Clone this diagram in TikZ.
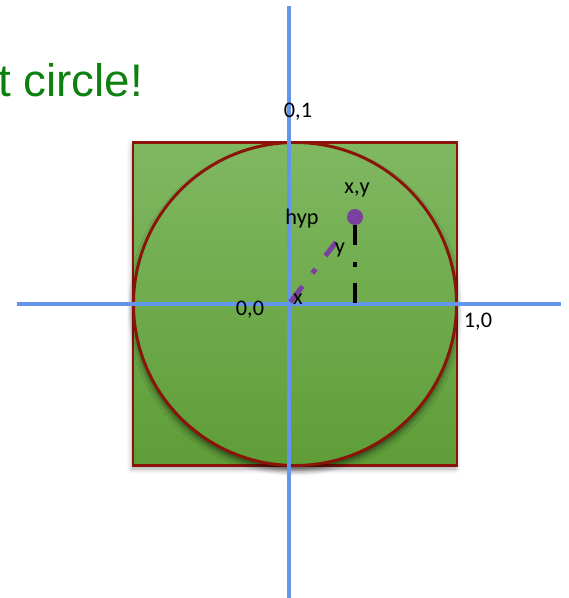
\documentclass[tikz,border=0pt]{standalone}
\usepackage{fontspec}
\setmainfont{Carlito}
\newfontfamily\titlefont{Liberation Sans}
\usetikzlibrary{shadows.blur}
\definecolor{axisblue}{HTML}{6495ED}
\definecolor{boxred}{HTML}{8B1408}
\definecolor{greentop}{HTML}{80B862}
\definecolor{greenbot}{HTML}{5E9D37}
\definecolor{ptpurple}{HTML}{7B3F9E}
\definecolor{titlegreen}{HTML}{0E8010}
\begin{document}
\begin{tikzpicture}[x=0.03cm,y=-0.03cm,
  axis/.style={draw=axisblue,line width=2.6pt},
  shape fill/.style={draw=boxred,line width=2.5pt,top color=greentop,bottom color=greenbot,inner sep=0pt},
  lbl/.style={font=\fontsize{19}{20}\selectfont,inner sep=0pt},
  dashline/.style={line width=4.2pt,dash pattern=on 17pt off 14pt on 4.5pt off 14pt}]
\useasboundingbox (0,0) rectangle (568,598);
\node[shape fill,rectangle,minimum width=324*0.03cm,minimum height=323*0.03cm,
  blur shadow={shadow xshift=-1pt,shadow yshift=-3pt,shadow blur radius=4pt,shadow opacity=35}] (sq) at (295,304) {};
\node[shape fill,circle,minimum size=323*0.03cm,
  blur shadow={shadow xshift=0pt,shadow yshift=-4pt,shadow blur radius=5pt,shadow opacity=60}] (c) at (295,304) {};
\coordinate (xl) at (17,304);
\coordinate (xr) at (561,304);
\coordinate (yt) at (289,6);
\coordinate (yb) at (289,598);
\draw[axis] (xl)--(xr);
\draw[axis] (yt)--(yb);
\coordinate (o) at (289,304);
\coordinate (f) at (355,304);
\node[circle,fill=ptpurple,minimum size=16*0.03cm,inner sep=0pt] (p) at (355,217) {};
\draw[dashline,black] (p.south)--(f);
\draw[dashline,ptpurple,shorten >=20pt,shorten <=2pt] (o)--(p);
\node[lbl] (t01) at (298,112) {0,1};
\node[lbl] (t00) at (250,310) {0,0};
\node[lbl] (t10) at (478,322) {1,0};
\node[lbl] (txy) at (357,190) {x,y};
\node[lbl] (thyp) at (302,219) {hyp};
\node[lbl] (ty) at (340,250) {y};
\node[lbl] (tx) at (298,299) {x};
\node[font=\titlefont\fontsize{39}{40}\selectfont,text=titlegreen,inner sep=0pt,anchor=base west] (title) at (-2,97) {t circle!};
\end{tikzpicture}
\end{document}
